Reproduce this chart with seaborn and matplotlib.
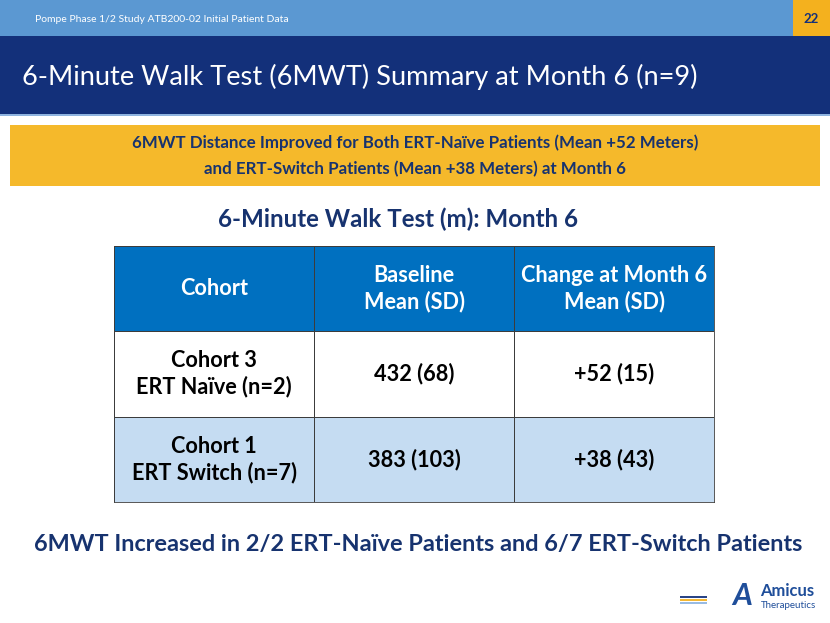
import numpy as np
import pandas as pd
import matplotlib
matplotlib.use("Agg")
import matplotlib.pyplot as plt
from matplotlib.colors import ListedColormap
from matplotlib.patches import Rectangle
import seaborn as sns

# Datos de la tabla
cohorts = ["Cohort 3\nERT Naïve (n=2)", "Cohort 1\nERT Switch (n=7)"]
baseline_mean = [432, 383]
baseline_sd = [68, 103]
change_mean = [52, 38]
change_sd = [15, 43]
headers = ["Cohort", "Baseline\nMean (SD)", "Change at Month 6\nMean (SD)"]

# Textos de la diapositiva
top_label = "Pompe Phase 1/2 Study ATB200-02 Initial Patient Data"
page_num = "22"
slide_title = "6-Minute Walk Test (6MWT) Summary at Month 6 (n=9)"
callout = ("6MWT Distance Improved for Both ERT-Naïve Patients (Mean +52 Meters)\n"
           "and ERT-Switch Patients (Mean +38 Meters) at Month 6")
table_title = "6-Minute Walk Test (m): Month 6"
footer = "6MWT Increased in 2/2 ERT-Naïve Patients and 6/7 ERT-Switch Patients"

sns.set_theme(style="white")
plt.rcParams["font.family"] = ["Lato", "DejaVu Sans"]

NAVY = "#13307a"
TXT_NAVY = "#17336f"

fig = plt.figure(figsize=(8.3, 6.23), dpi=100)
fig.patch.set_facecolor("white")

# Fondo de la diapositiva en coordenadas de pixel
bg = fig.add_axes([0, 0, 1, 1])
bg.set_xlim(0, 830)
bg.set_ylim(623, 0)
bg.axis("off")

bg.add_patch(Rectangle((0, 0), 830, 36, color="#5b98d2", lw=0))
bg.add_patch(Rectangle((793, 0), 37, 36, color="#f4b11e", lw=0))
bg.add_patch(Rectangle((0, 36), 830, 78, color=NAVY, lw=0))
bg.add_patch(Rectangle((0, 114), 830, 2, color="#8fb4e0", lw=0))
bg.add_patch(Rectangle((10, 125), 810, 61, color="#f5b92b", lw=0))

bg.text(35, 19, top_label, color="white", fontsize=7.5, va="center", ha="left")
bg.text(811, 19, page_num, color=NAVY, fontsize=9.5, fontweight="bold",
        va="center", ha="center")
bg.text(22, 77, slide_title, color="white", fontsize=19.6, va="center", ha="left")
bg.text(415, 156, callout, color=TXT_NAVY, fontsize=12.2, fontweight="bold",
        va="center", ha="center", linespacing=1.8)
bg.text(398, 219, table_title, color=TXT_NAVY, fontsize=17.4, fontweight="bold",
        va="center", ha="center")
bg.text(418, 545, footer, color=TXT_NAVY, fontsize=16.9, fontweight="bold",
        va="center", ha="center")

# Logo
for y, c in [(597, NAVY), (600, "#f4b11e"), (603, "#8fb4e0")]:
    bg.plot([680, 707], [y, y], color=c, lw=1.3, solid_capstyle="butt")
bg.text(742, 596, "A", color="#1f4e9a", fontsize=22, fontweight="bold",
        fontstyle="italic", va="center", ha="center")
bg.text(760, 591, "Amicus", color="#1f4e9a", fontsize=12, fontweight="bold",
        va="center", ha="left")
bg.text(761, 606, "Therapeutics", color="#1f4e9a", fontsize=7,
        va="center", ha="left")

# Tabla como heatmap
cells = [headers] + [
    [c, f"{b} ({bs})", f"+{m} ({s})"]
    for c, b, bs, m, s in zip(cohorts, baseline_mean, baseline_sd, change_mean, change_sd)
]
labels = np.array(cells)
kind = np.array([[0, 0, 0], [1, 1, 1], [2, 2, 2]])
df = pd.DataFrame(kind)

ax = fig.add_axes([114 / 830, 1 - 502 / 623, 600 / 830, 256 / 623])
sns.heatmap(df, ax=ax, cmap=ListedColormap(["#0070c0", "#ffffff", "#c5dcf2"]),
            vmin=-0.5, vmax=2.5, cbar=False, annot=labels, fmt="",
            linewidths=0.6, linecolor="#3c3c3c",
            annot_kws={"fontsize": 15.6, "fontweight": "bold", "linespacing": 1.25})
for t in ax.texts:
    if t.get_color() not in ("white", "w", "#ffffff"):
        t.set_color("black")
ax.set_xticks([])
ax.set_yticks([])
ax.set_xlabel("")
ax.set_ylabel("")
for sp in ax.spines.values():
    sp.set_visible(True)
    sp.set_color("#3c3c3c")
    sp.set_linewidth(0.6)

fig.savefig("out.png", dpi=100)
